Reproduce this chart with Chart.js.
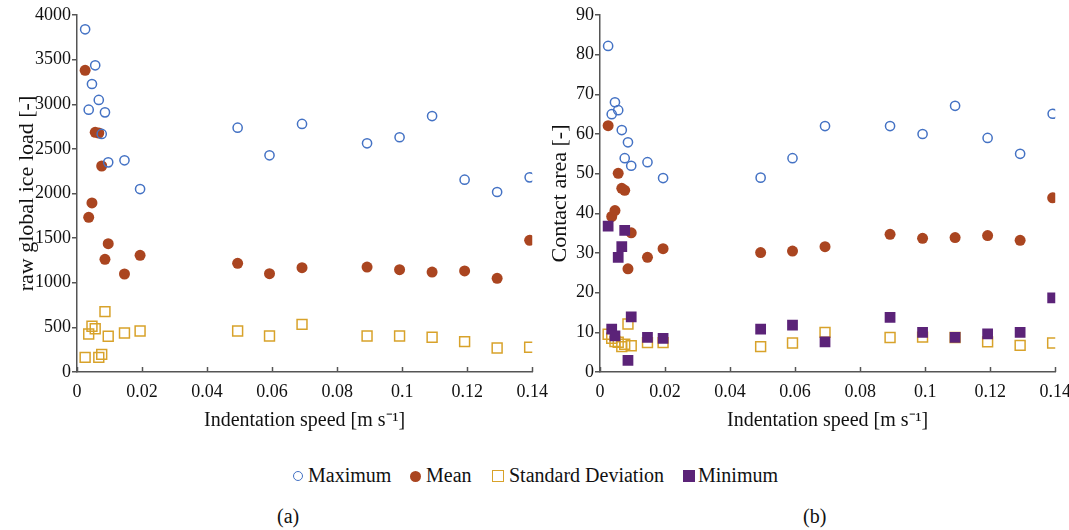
<!DOCTYPE html>
<html>
<head>
<meta charset="utf-8">
<script src="https://cdn.jsdelivr.net/npm/chart.js@4.4.1/dist/chart.umd.min.js"></script>
<style>
  body { margin: 0; background: #fff; width: 1069px; height: 530px; position: relative; overflow: hidden;
         font-family: 'Liberation Serif', 'Times New Roman', serif; color: #111; }
  canvas { position: absolute; top: 0; }
  #cLoad { left: 0; }
  #cArea { left: 545px; }
  .leg { position: absolute; top: 463px; font-size: 20px; line-height: 24px; white-space: nowrap; }
  .mk { display: inline-block; box-sizing: border-box; vertical-align: middle; margin-right: 5px; position: relative; top: -1px; }
  .cap { position: absolute; top: 505px; font-size: 20px; }
</style>
</head>
<body>
<canvas id="cLoad" width="557" height="445"></canvas>
<canvas id="cArea" width="535" height="445"></canvas>

<div class="leg" style="left:293px"><span class="mk" style="width:10px;height:10px;border:1.5px solid #4472c4;border-radius:50%"></span>Maximum</div>
<div class="leg" style="left:410px"><span class="mk" style="width:11px;height:11px;background:#aa4520;border-radius:50%"></span>Mean</div>
<div class="leg" style="left:492px"><span class="mk" style="width:12px;height:12px;border:1.5px solid #d8a22a"></span>Standard Deviation</div>
<div class="leg" style="left:683px"><span class="mk" style="width:12px;height:12px;background:#5b2378;margin-right:3px"></span>Minimum</div>

<div class="cap" style="left:277px">(a)</div>
<div class="cap" style="left:803px">(b)</div>

<script>
// indentation speed [m/s], shared by every series
const speed = [0.0025, 0.0036, 0.0046, 0.0056, 0.0067, 0.0076, 0.0086, 0.0096, 0.0146, 0.0194,
               0.0494, 0.0592, 0.0692, 0.0892, 0.0992, 0.1092, 0.1192, 0.1292, 0.1392];

// (a) raw global ice load
const loadMax  = [3840, 2939, 3227, 3436, 3048, 2667, 2909, 2349, 2372, 2050, 2737, 2428, 2779, 2562, 2630, 2868, 2155, 2017, 2181];
const loadMean = [3380, 1733, 1894, 2686, 2678, 2308, 1262, 1438, 1098, 1307, 1218, 1102, 1169, 1176, 1146, 1120, 1132, 1050, 1475];
const loadSd   = [164, 426, 512, 485, 164, 198, 676, 400, 437, 459, 459, 403, 534, 403, 403, 389, 340, 269, 277];

// (b) contact area
const areaMax  = [82.2, 65.0, 68.0, 66.0, 61.0, 53.9, 57.9, 52.0, 52.9, 48.9, 49.0, 53.9, 62.0, 62.0, 60.0, 67.1, 59.0, 55.0, 65.1];
const areaMean = [62.1, 39.2, 40.7, 50.1, 46.3, 45.8, 26.0, 35.1, 28.9, 31.1, 30.1, 30.5, 31.6, 34.7, 33.7, 33.9, 34.4, 33.2, 43.9];
const areaSd   = [9.5, 8.5, 7.7, 7.5, 6.4, 7.0, 12.1, 6.6, 7.4, 7.4, 6.4, 7.3, 10.0, 8.7, 8.8, 8.7, 7.6, 6.7, 7.3];
const areaMin  = [36.8, 10.8, 9.1, 28.9, 31.6, 35.7, 2.9, 13.9, 8.7, 8.5, 10.8, 11.8, 7.6, 13.8, 10.0, 8.7, 9.6, 10.0, 18.7];

const xTicks = [0, 0.02, 0.04, 0.06, 0.08, 0.1, 0.12, 0.14];

const BLUE = '#4472c4', RUST = '#aa4520', GOLD = '#d8a22a', PURPLE = '#5b2378', AXIS = '#555';
const SERIF = "'Liberation Serif', 'Times New Roman', serif";

Chart.defaults.font.family = SERIF;
Chart.defaults.color = '#111';

const pts = vals => vals.map((v, i) => ({x: speed[i], y: v}));

function ds(label, vals, style, order) {
    const base = {label, data: pts(vals), order, pointBorderWidth: 1.5};
    if (style === 'max') return {...base, pointStyle: 'circle', pointRadius: 4.6, pointBackgroundColor: 'rgba(0,0,0,0)', pointBorderColor: BLUE};
    if (style === 'mean') return {...base, pointStyle: 'circle', pointRadius: 5.5, pointBackgroundColor: RUST, pointBorderColor: RUST, pointBorderWidth: 0};
    if (style === 'sd') return {...base, pointStyle: 'rect', pointRadius: 7, pointBackgroundColor: 'rgba(0,0,0,0)', pointBorderColor: GOLD};
    return {...base, pointStyle: 'rect', pointRadius: 7.6, pointBackgroundColor: PURPLE, pointBorderColor: PURPLE, pointBorderWidth: 0};
}

// x ticks in the reference point up into the plot
const inwardTicks = {
    id: 'inwardTicks',
    afterDraw(chart) {
        const xs = chart.scales.x, ctx = chart.ctx, y0 = chart.chartArea.bottom;
        ctx.save();
        ctx.strokeStyle = AXIS;
        ctx.lineWidth = 1.5;
        xs.ticks.forEach(t => {
            const px = Math.round(xs.getPixelForValue(t.value)) + 0.5;
            ctx.beginPath(); ctx.moveTo(px, y0); ctx.lineTo(px, y0 - 5); ctx.stroke();
        });
        ctx.restore();
    }
};

function makeChart(canvas, datasets, yMax, yStep, yTitle, yWidth, titlePad) {
    return new Chart(canvas, {
        type: 'scatter',
        data: {datasets},
        plugins: [inwardTicks],
        options: {
            responsive: false,
            animation: false,
            devicePixelRatio: 1,
            layout: {padding: {top: 15, right: 10, bottom: 0, left: 0}},
            plugins: {legend: {display: false}, tooltip: {enabled: false}},
            scales: {
                x: {
                    type: 'linear', min: 0, max: 0.14,
                    afterBuildTicks: s => { s.ticks = xTicks.map(v => ({value: v})); },
                    afterFit: s => { s.height = 73; },
                    grid: {drawOnChartArea: false, drawTicks: false, color: AXIS},
                    border: {color: AXIS, width: 1.5},
                    ticks: {padding: 9, maxRotation: 0, font: {family: SERIF, size: 18}, callback: v => String(Number(v.toFixed(2)))},
                    title: {display: true, text: 'Indentation speed [m s\u207B\u00B9]', font: {family: SERIF, size: 20}, padding: {top: 0, bottom: 12}}
                },
                y: {
                    min: 0, max: yMax,
                    ticks: {stepSize: yStep, padding: 1, font: {family: SERIF, size: 18}, callback: v => String(v)},
                    afterFit: s => { s.width = yWidth; },
                    grid: {drawOnChartArea: false, tickLength: 5, color: AXIS, lineWidth: 1.5},
                    border: {color: AXIS, width: 1.5},
                    title: {display: true, text: yTitle, font: {family: SERIF, size: 22}, padding: {top: titlePad, bottom: 0}}
                }
            }
        }
    });
}

makeChart(document.getElementById('cLoad'), [
    ds('Maximum', loadMax, 'max', 0),
    ds('Mean', loadMean, 'mean', 3),
    ds('Standard Deviation', loadSd, 'sd', 2)
], 4000, 500, 'raw global ice load [-]', 77, 14);

makeChart(document.getElementById('cArea'), [
    ds('Maximum', areaMax, 'max', 0),
    ds('Mean', areaMean, 'mean', 3),
    ds('Standard Deviation', areaSd, 'sd', 2),
    ds('Minimum', areaMin, 'min', 1)
], 90, 10, 'Contact area [-]', 55, 2);
</script>
</body>
</html>
